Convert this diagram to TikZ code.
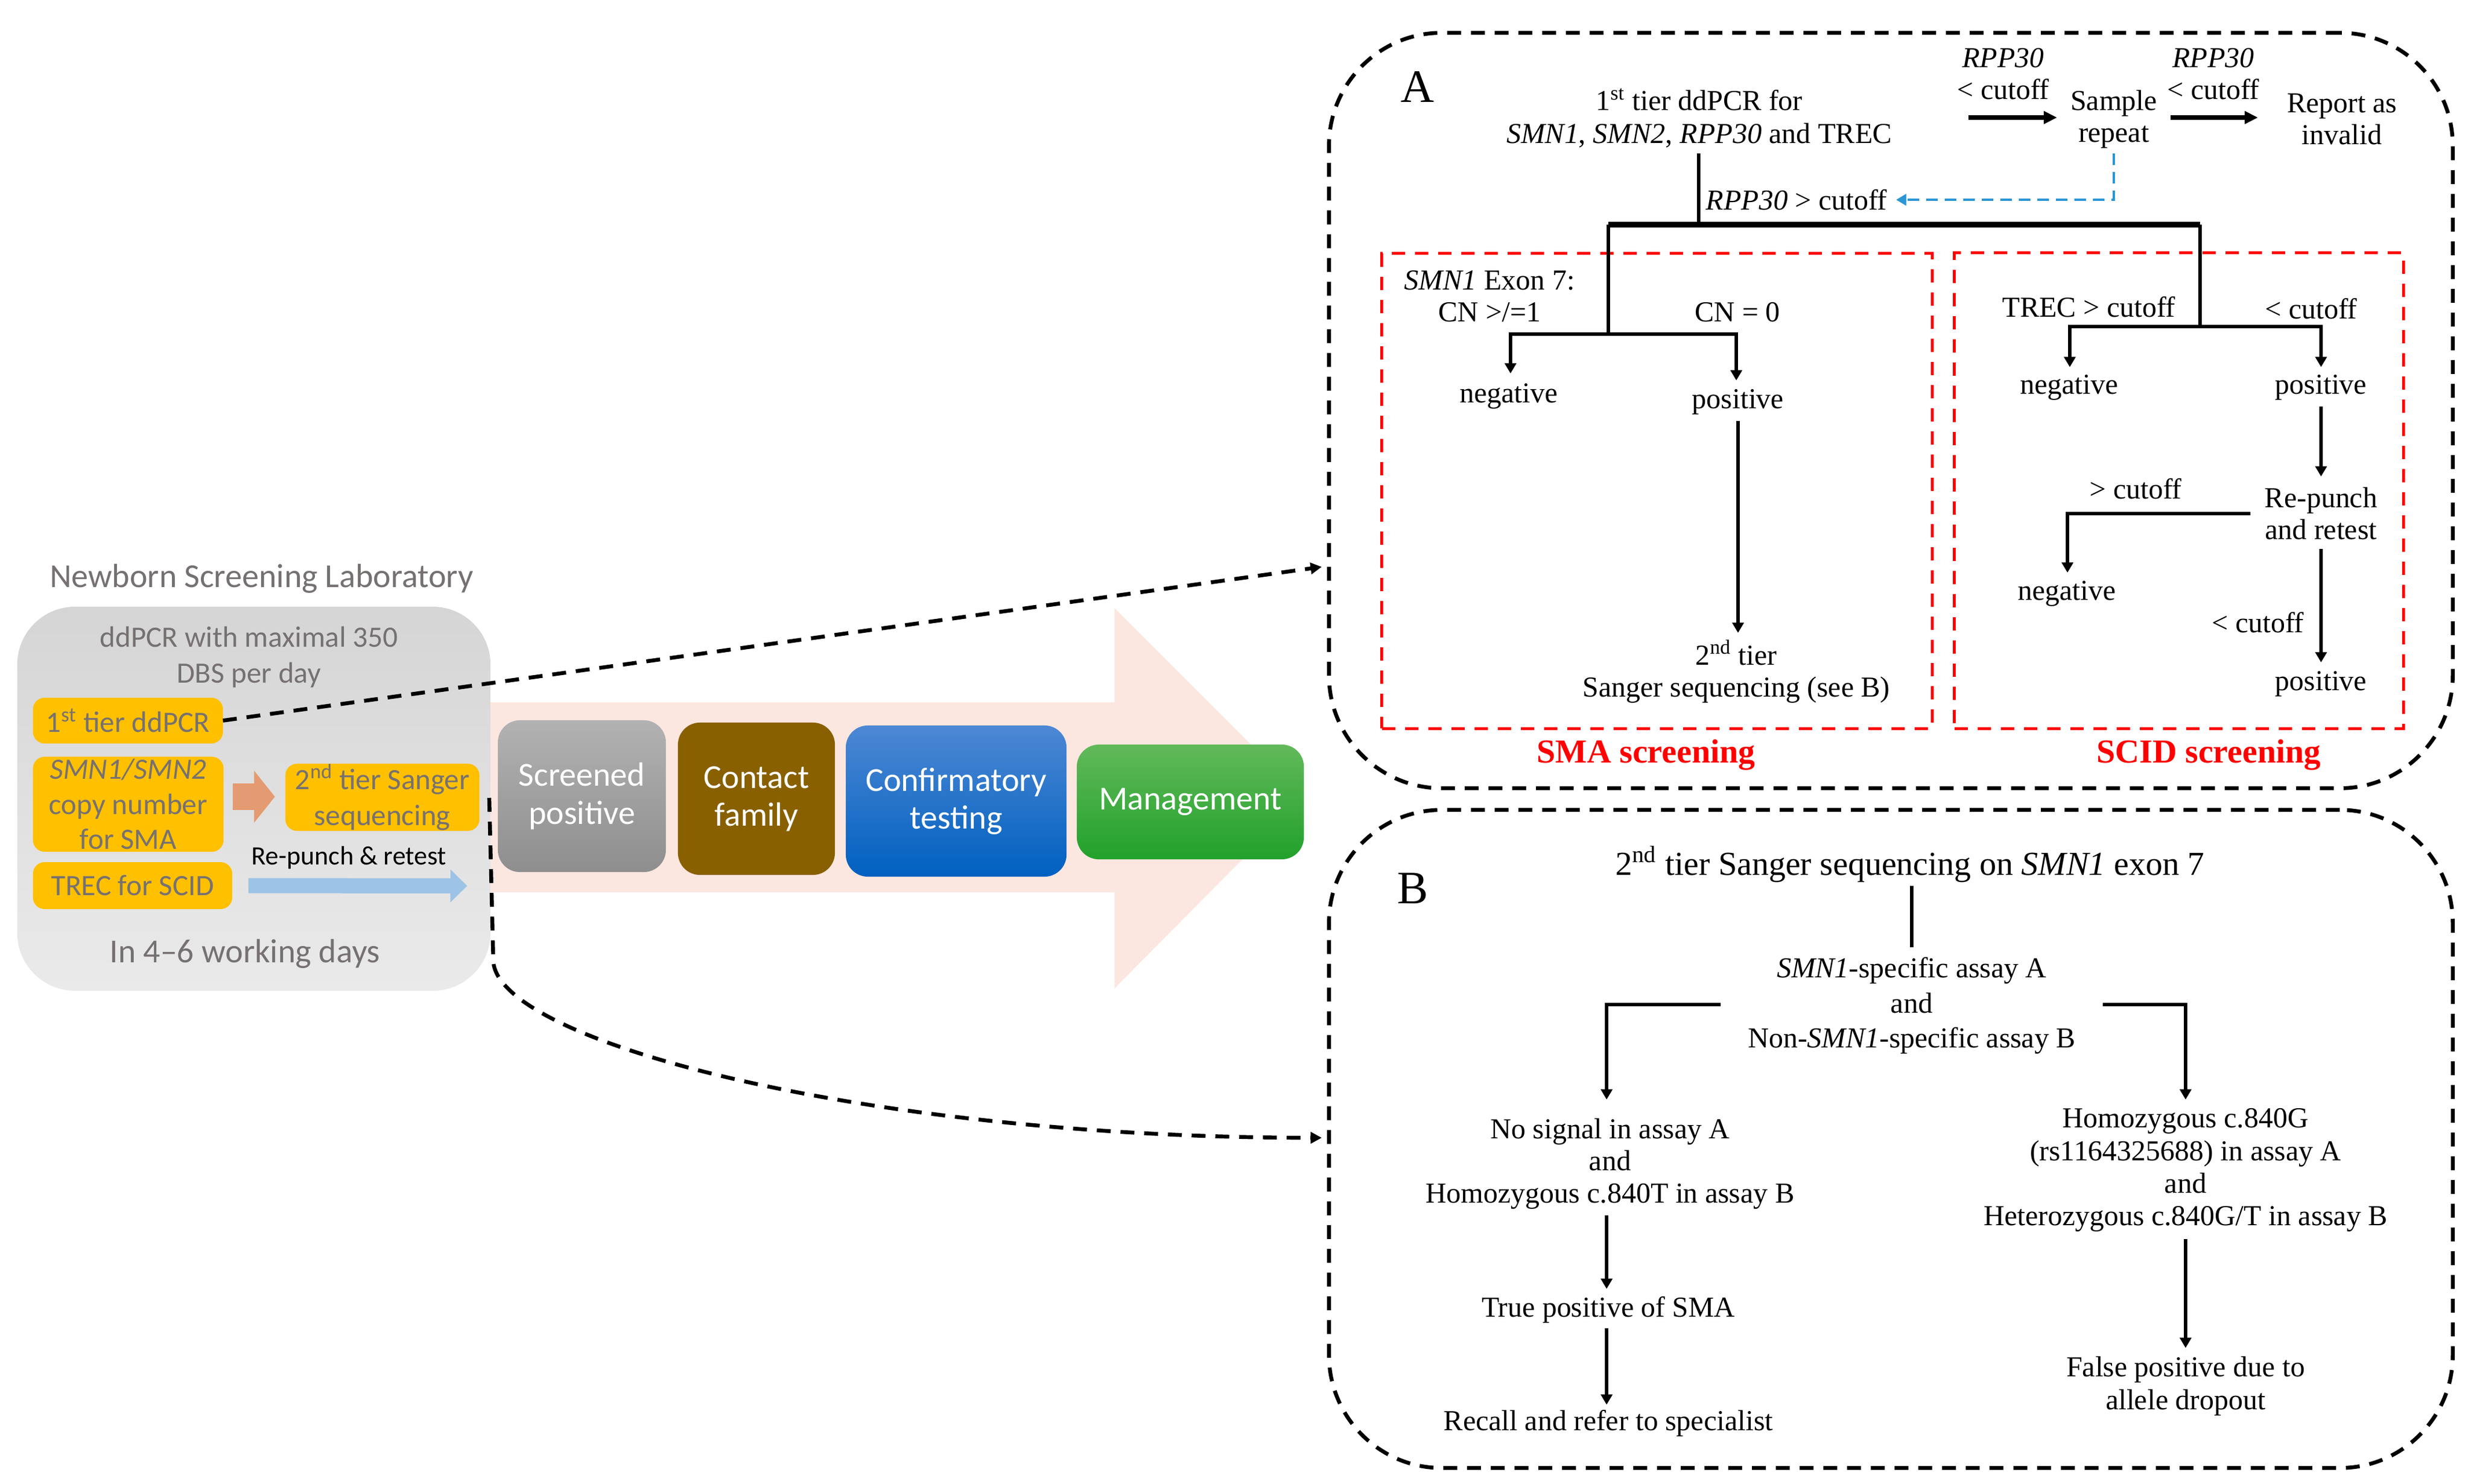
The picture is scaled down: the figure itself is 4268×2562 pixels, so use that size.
\documentclass[tikz,border=0pt]{standalone}
\usepackage{fontspec}
\setmainfont{Liberation Serif}
\newfontfamily\carl{Carlito}
\usetikzlibrary{arrows.meta,calc}
\definecolor{ygold}{HTML}{FFC000}
\definecolor{txtgray}{HTML}{767171}
\definecolor{orarrow}{HTML}{E49B72}
\definecolor{blarrow}{HTML}{9DC3E6}
\definecolor{pinkarrow}{HTML}{FCE7E0}
\definecolor{brownbox}{HTML}{896000}
\definecolor{dashblue}{HTML}{2B95D6}
\definecolor{labtop}{HTML}{D5D5D5}
\definecolor{labbot}{HTML}{EAEAEA}
\definecolor{sptop}{HTML}{B2B2B2}
\definecolor{spbot}{HTML}{8E8E8E}
\definecolor{cttop}{HTML}{4D88D4}
\definecolor{ctbot}{HTML}{0060C0}
\definecolor{mgtop}{HTML}{62B95A}
\definecolor{mgbot}{HTML}{21A12B}
\newcommand{\fsz}[2]{\fontsize{#1}{#2}\selectfont}
\begin{document}
\begin{tikzpicture}[x=0.01cm,y=-0.01cm,
  every node/.style={inner sep=0pt,outer sep=0pt},
  ybox/.style={fill=ygold, rounded corners=0.2cm, align=center, text=txtgray, font=\carl\fsz{14.5}{17.2}},
  cbox/.style={rounded corners=0.38cm, align=center, text=white, font=\carl\fsz{16.5}{18.5}},
  ptxt/.style={align=center, font=\fsz{14.2}{15.7}},
  rtitle/.style={text=red, font=\bfseries\fsz{16.5}{19}},
  arr/.style={line width=1.5pt, -{Triangle[length=5pt,width=5.5pt]}},
  ln/.style={line width=1.5pt},
  thkarr/.style={line width=2pt, -{Triangle[length=6.5pt,width=6pt]}},
  barline/.style={line width=2.6pt},
  panel/.style={draw, line width=1.9pt, dash pattern=on 0.24cm off 0.17cm, rounded corners=1.95cm},
  redbox/.style={draw=red, line width=1.5pt, dash pattern=on 0.23cm off 0.17cm},
  zoomline/.style={line width=1.9pt, dash pattern=on 0.24cm off 0.17cm, -{Triangle[length=5.5pt,width=5.5pt]}},
  bluedash/.style={draw=dashblue, line width=1.4pt, dash pattern=on 0.2cm off 0.12cm, -{Triangle[length=5pt,width=5.5pt]}},
]
\useasboundingbox[fill=white] (0,0) rectangle (4268,2562);

% ---------- big pale arrow ----------
\fill[pinkarrow] (800,1213) -- (1925,1213) -- (1925,1050) -- (2252,1377) -- (1925,1707) -- (1925,1541) -- (800,1541) -- cycle;

% ---------- laboratory panel ----------
\node[rounded corners=1cm, top color=labtop, bottom color=labbot, minimum width=8.17cm, minimum height=6.63cm] (lab) at (438.5,1379.5) {};
\node[font=\carl\fsz{16.5}{19}, text=txtgray] (labtitle) at (452,999) {Newborn Screening Laboratory};
\node[align=center, font=\carl\fsz{14.5}{17.6}, text=txtgray] (ddpcr) at (430,1135) {ddPCR with maximal 350\\DBS per day};
\node[font=\carl\fsz{16.5}{19}, text=txtgray] (days) at (423,1647) {In 4–6 working days};

\node[ybox, minimum width=3.28cm, minimum height=0.79cm] (t1) at (221,1244.5) {1\textsuperscript{st} tier ddPCR};
\node[ybox, minimum width=3.29cm, minimum height=1.64cm] (t2) at (221.5,1389) {\textit{SMN1/SMN2}\\copy number\\for SMA};
\node[ybox, minimum width=3.44cm, minimum height=0.81cm] (t3) at (229,1529.5) {TREC for SCID};
\node[ybox, minimum width=3.35cm, minimum height=1.16cm, font=\carl\fsz{14.5}{17.6}] (t4) at (660.5,1377) {2\textsuperscript{nd} tier Sanger\\sequencing};

\draw[orarrow, line width=0.46cm, -{Triangle[length=0.36cm,width=0.88cm]}] ($(t2.east)+(16,-13)$) -- ($(t4.west)+(-18,-1)$);
\coordinate (rpend) at (807,1530);
\draw[blarrow, line width=0.26cm, -{Triangle[length=0.29cm,width=0.55cm]}] ($(t3.east)+(28,0)$) -- (rpend);
\node[font=\carl\fsz{13}{15}] (rplab) at (603,1481) {Re-punch \& retest};

% ---------- process boxes ----------
\node[cbox, top color=sptop, bottom color=spbot, minimum width=2.9cm, minimum height=2.62cm] (sp) at (1005,1375) {Screened\\positive};
\node[cbox, fill=brownbox, minimum width=2.71cm, minimum height=2.63cm] (cf) at (1306.5,1379.5) {Contact\\family};
\node[cbox, top color=cttop, bottom color=ctbot, minimum width=3.81cm, minimum height=2.61cm] (ct) at (1651.5,1383.5) {Confirmatory\\testing};
\node[cbox, top color=mgtop, bottom color=mgbot, minimum width=3.92cm, minimum height=1.98cm] (mg) at (2056,1385) {Management};

% ---------- panels ----------
\node[panel, minimum width=19.4cm, minimum height=13.04cm] (panA) at (3266,709) {};
\node[panel, minimum width=19.4cm, minimum height=11.36cm] (panB) at (3266,1967) {};
\node[font=\fsz{22.8}{24}] (labA) at (2448,150) {A};
\node[font=\fsz{22.8}{24}] (labB) at (2440,1534) {B};

% zoom connectors
\coordinate (za) at (2283,979);
\draw[zoomline] (t1.east) -- (za);
\coordinate (zs) at (845,1378);
\coordinate (zb) at (2283,1965);
\draw[zoomline] (zs) -- (852,1660) .. controls (860,1800) and (1500,1965) .. (zb);

% ---------- panel A ----------
\node[ptxt, font=\fsz{14.2}{16.2}] (n1) at (2935,204) {1\textsuperscript{st} tier ddPCR for\\\textit{SMN1}, \textit{SMN2}, \textit{RPP30} and TREC};
\node[ptxt] (c1) at (3460,128) {\textit{RPP30}\\< cutoff};
\node[ptxt] (sr) at (3651,206) {Sample\\repeat};
\node[ptxt] (c2) at (3823,128) {\textit{RPP30}\\< cutoff};
\node[ptxt] (rep) at (4045,206) {Report as\\invalid};
\coordinate (a1s) at (3400,203);
\coordinate (a1e) at (3553,203);
\coordinate (a2s) at (3749,203);
\coordinate (a2e) at (3900,203);
\draw[thkarr] (a1s) -- (a1e);
\draw[thkarr] (a2s) -- (a2e);

\node[ptxt] (rppgt) at (3103,345) {\textit{RPP30} > cutoff};
\coordinate (bs) at (3651,265);
\coordinate (btip) at (3275,345);
\draw[bluedash] (bs) |- (btip);

\coordinate (n1b) at (2934,265);
\coordinate (barL) at (2778,388);
\coordinate (barR) at (3800,388);
\draw[ln] (n1b) -- (2934,388);
\draw[barline] (barL) -- (barR);

% SMA box
\node[redbox, minimum width=9.5cm, minimum height=8.2cm] (smabox) at (2862,848) {};
\node[rtitle] (smat) at (2843,1304) {SMA screening};
\node[ptxt] (exon) at (2573,512) {\textit{SMN1} Exon 7:\\CN >/=1};
\node[ptxt] (cn0) at (3001,539) {CN = 0};
\node[ptxt] (sneg) at (2606,684) {negative};
\node[ptxt] (spos) at (3002,694) {positive};
\node[ptxt] (s2t) at (2999,1160) {2\textsuperscript{nd} tier\\Sanger sequencing (see B)};
\coordinate (smaJ) at (2778,577);
\coordinate (snegT) at (2609,645);
\coordinate (sposT) at (2999,657);
\draw[ln] (barL) -- (smaJ);
\draw[arr] (smaJ) -| (snegT);
\draw[arr] (smaJ) -| (sposT);
\coordinate (sposB) at (3002,727);
\coordinate (s2tT) at (3002,1093);
\draw[arr] (sposB) -- (s2tT);

% SCID box
\node[redbox, minimum width=7.75cm, minimum height=8.21cm] (scidbox) at (3763.5,847.5) {};
\node[rtitle] (scidt) at (3815,1304) {SCID screening};
\node[ptxt] (trecgt) at (3608,530) {TREC > cutoff};
\node[ptxt] (trecl) at (3992,533) {< cutoff};
\node[ptxt] (cneg1) at (3574,669) {negative};
\node[ptxt] (cpos1) at (4009,669) {positive};
\node[ptxt] (repunch) at (4009,887) {Re-punch\\and retest};
\node[ptxt] (gt2) at (3689,844) {> cutoff};
\node[ptxt] (cneg2) at (3570,1025) {negative};
\node[ptxt] (lt2) at (3900,1075) {< cutoff};
\node[ptxt] (cpos2) at (4009,1181) {positive};
\coordinate (scidJ) at (3800,564);
\coordinate (cneg1T) at (3575,634);
\coordinate (cpos1T) at (4009,634);
\draw[ln] (barR) -- (scidJ);
\draw[arr] (scidJ) -| (cneg1T);
\draw[arr] (scidJ) -| (cpos1T);
\coordinate (cpos1B) at (4009,702);
\coordinate (repT) at (4009,823);
\draw[arr] (cpos1B) -- (repT);
\coordinate (repL) at (3887,887);
\coordinate (cneg2T) at (3571,989);
\draw[arr] (repL) -| (cneg2T);
\coordinate (repB) at (4009,948);
\coordinate (cpos2T) at (4009,1144);
\draw[arr] (repB) -- (cpos2T);

% ---------- panel B ----------
\node[ptxt, font=\fsz{16.5}{19}] (bhead) at (3299,1493) {2\textsuperscript{nd} tier Sanger sequencing on \textit{SMN1} exon 7};
\node[ptxt, font=\fsz{14.2}{17.2}] (assay) at (3302,1737) {\textit{SMN1}-specific assay A\\and\\Non-\textit{SMN1}-specific assay B};
\coordinate (bheadB) at (3302,1530);
\coordinate (assayT) at (3302,1636);
\draw[ln] (bheadB) -- (assayT);
\coordinate (assayL) at (2972,1735);
\coordinate (assayR) at (3632,1735);
\coordinate (lresT) at (2775,1899);
\coordinate (rresT) at (3775,1899);
\draw[arr] (assayL) -| (lresT);
\draw[arr] (assayR) -| (rresT);
\node[ptxt] (lres) at (2781,2010) {No signal in assay A\\and\\Homozygous c.840T in assay B};
\node[ptxt] (truepos) at (2778,2262) {True positive of SMA};
\node[ptxt] (recall) at (2778,2458) {Recall and refer to specialist};
\coordinate (lresB) at (2775,2099);
\coordinate (trueT) at (2775,2226);
\coordinate (trueB) at (2775,2294);
\coordinate (recallT) at (2775,2426);
\draw[arr] (lresB) -- (trueT);
\draw[arr] (trueB) -- (recallT);
\node[ptxt, font=\fsz{14.2}{16}] (rres) at (3775,2021) {Homozygous c.840G\\(rs1164325688) in assay A\\and\\Heterozygous c.840G/T in assay B};
\node[ptxt, font=\fsz{14.2}{16}] (falsepos) at (3775,2394) {False positive due to\\allele dropout};
\coordinate (rresB) at (3775,2140);
\coordinate (falseT) at (3775,2328);
\draw[arr] (rresB) -- (falseT);
\end{tikzpicture}
\end{document}
